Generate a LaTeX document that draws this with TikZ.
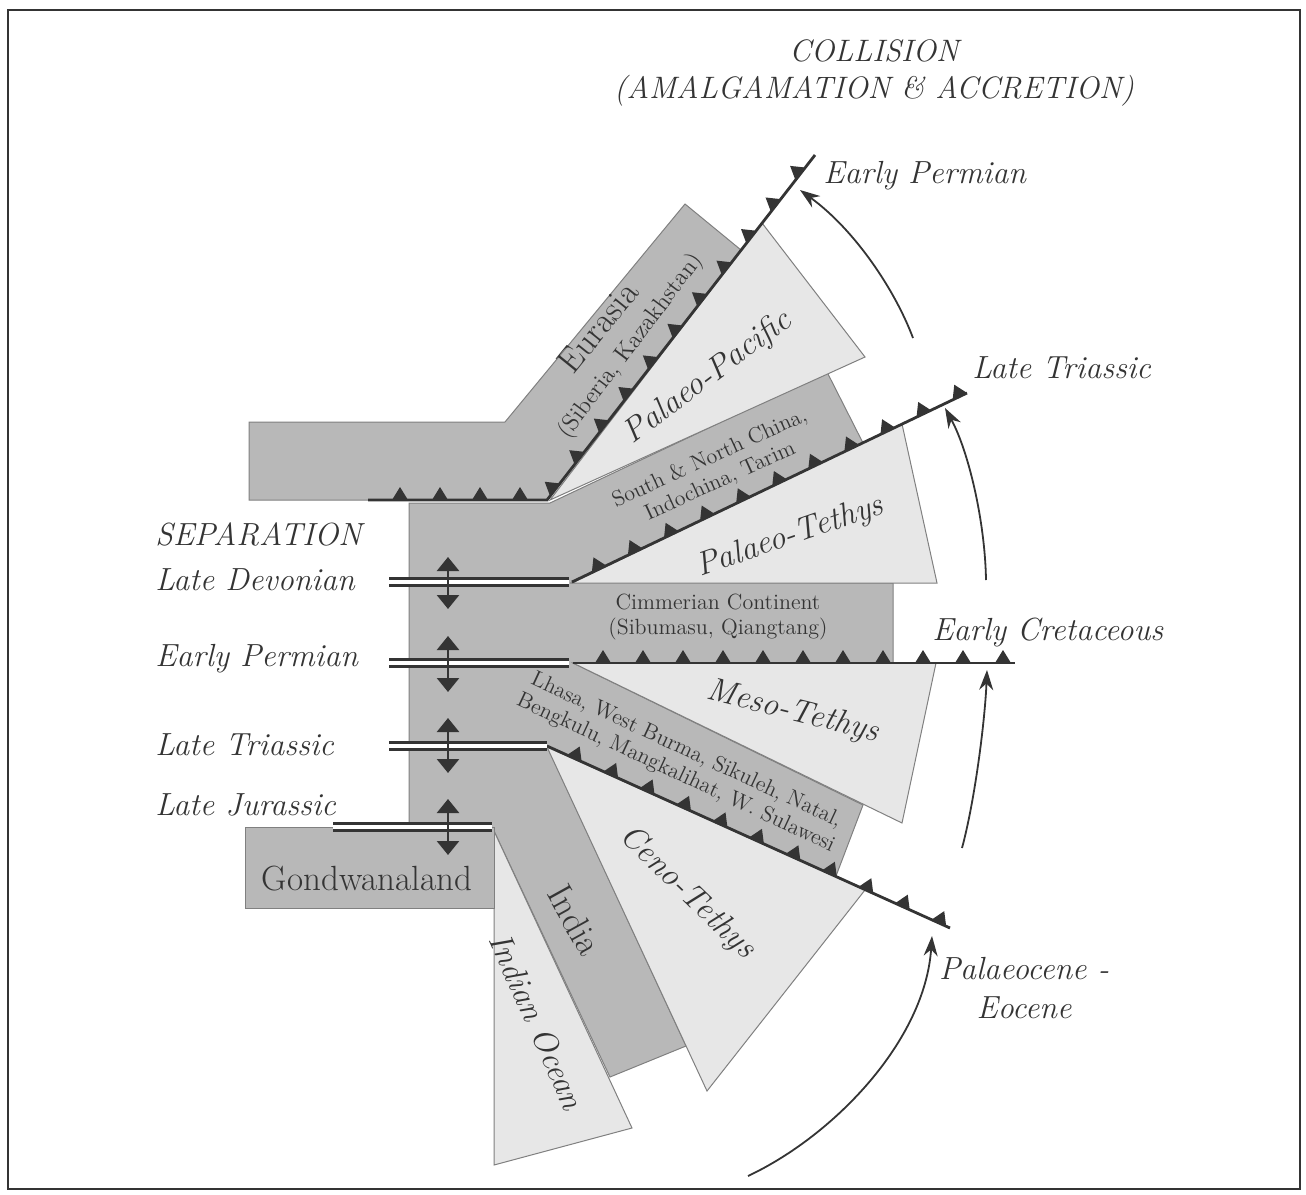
\documentclass[tikz,border=0pt]{standalone}
\usepackage{tikz}
\usetikzlibrary{positioning,arrows.meta,decorations.markings}

\definecolor{plategray}{RGB}{184,184,184}
\definecolor{oceangray}{RGB}{231,231,231}
\definecolor{inkgray}{RGB}{52,52,52}
\definecolor{rimgray}{RGB}{128,128,128}

\begin{document}
\begin{tikzpicture}[
    x=0.5pt, y=-0.5pt,
    plate/.style={fill=plategray, draw=rimgray, line width=0.5pt},
    ocean/.style={fill=oceangray, draw=rimgray, line width=0.5pt},
    trench/.style={draw=inkgray, line width=1.4pt, postaction={decorate},
        decoration={markings, mark=between positions #1 and 1 step 20pt with
        {\fill[inkgray] (-4pt,0pt) -- (0pt,6.5pt) -- (4pt,0pt) -- cycle;}}},
    trench/.default=15pt,
    rift/.style={draw=inkgray, line width=1.4pt, double=white, double distance=2.4pt},
    split/.style={draw=inkgray, line width=1.3pt,
        {Triangle[width=11pt,length=7pt]}-{Triangle[width=11pt,length=7pt]}},
    closing/.style={draw=inkgray, line width=0.9pt, -{Stealth[length=10pt,width=7pt]}},
    age/.style={anchor=base west, inner sep=0pt, text=inkgray, font=\fontsize{16}{19.5}\selectfont\itshape},
    seaname/.style={inner sep=0pt, text=inkgray, font=\fontsize{16.5}{20}\selectfont\itshape},
    landname/.style={inner sep=0pt, text=inkgray, font=\fontsize{17.5}{20}\selectfont},
    blocklabel/.style={inner sep=0pt, align=center, text=inkgray, font=\fontsize{11}{12.5}\selectfont}
]
\useasboundingbox (0,0) rectangle (1306,1194);
\draw[inkgray, line width=1pt] (8,10) rectangle (1300,1189);

% plates
\draw[plate] (409,503) -- (550,503) -- (827,372) -- (863,443) -- (572,582)
    -- (893,583) -- (893,663) -- (573,663) -- (863,805) -- (836,876)
    -- (547,746) -- (686,1046) -- (610,1077) -- (494,831) -- (409,831) -- cycle;
\draw[plate] (249,422) -- (505,422) -- (685,204) -- (741,250) -- (547,500) -- (249,500) -- cycle;

% oceans
\draw[ocean] (550,500) -- (762,223) -- (865,357) -- cycle;
\draw[ocean] (572,583) -- (902,424) -- (937,583) -- cycle;
\draw[ocean] (573,663) -- (936,663) -- (902,823) -- cycle;
\draw[ocean] (547,747) -- (865,890) -- (707,1091) -- cycle;
\draw[ocean] (494,831) -- (632,1128) -- (494,1165) -- cycle;
\draw[plate] (245,827) rectangle (494,908);

% subduction zones
\coordinate (pactip) at (815,155);
\coordinate (pactop) at (967,393);
\coordinate (mesotip) at (1015,663);
\coordinate (cenotip) at (950,928);
\draw[trench=16pt] (368,500) -- (547,500) -- (pactip);
\draw[trench] (572,582) -- (pactop);
\draw[trench] (573,663) -- (mesotip);
\draw[trench] (547,746) -- (cenotip);

% rifting
\draw[rift] (389,582) -- (569,582);
\draw[rift] (389,663) -- (569,663);
\draw[rift] (389,746) -- (547,746);
\draw[rift] (333,827) -- (492,827);
\draw[split] (448,557) -- (448,609);
\draw[split] (448,636) -- (448,692);
\draw[split] (448,718) -- (448,773);
\draw[split] (448,799) -- (448,855);

% closing arrows
\coordinate (a1s) at (913,338); \coordinate (a1e) at (800,190);
\coordinate (a2s) at (986,580); \coordinate (a2e) at (945,408);
\coordinate (a3s) at (962,848); \coordinate (a3e) at (987,670);
\coordinate (a4s) at (748,1176); \coordinate (a4e) at (932,936);
\draw[closing] (a1s) .. controls (895,290) and (855,230) .. (a1e);
\draw[closing] (a2s) .. controls (985,520) and (968,450) .. (a2e);
\draw[closing] (a3s) .. controls (975,800) and (985,720) .. (a3e);
\draw[closing] (a4s) .. controls (835,1135) and (925,1040) .. (a4e);

% labels
\node[age, anchor=base, align=center, font=\fontsize{15.5}{18.5}\selectfont\itshape] (collision) at (874,98)
    {COLLISION\\(AMALGAMATION \& ACCRETION)};
\node[age] (sep) at (155,545) {SEPARATION};
\node[age] (sepdev) at (155,590) {Late Devonian};
\node[age] (sepperm) at (155,666) {Early Permian};
\node[age] (septri) at (155,755) {Late Triassic};
\node[age] (sepjur) at (155,815) {Late Jurassic};
\node[age] (colperm) at (823,183) {Early Permian};
\node[age] (coltri) at (972,378) {Late Triassic};
\node[age] (colcret) at (932,640) {Early Cretaceous};
\node[age, anchor=base, align=center] (colpal) at (1024,1018) {Palaeocene -\\Eocene};

\node[landname, rotate=51] (eurasia) at (598,327) {Eurasia};
\node[blocklabel, rotate=53, font=\fontsize{12}{14}\selectfont] (siberia) at (631,346) {(Siberia, Kazakhstan)};
\node[seaname, rotate=37] (ppacific) at (708,378) {Palaeo-Pacific};
\node[blocklabel, rotate=24.5] (china) at (715,470) {South \& North China,\\Indochina, Tarim};
\node[seaname, rotate=19] (ptethys) at (790,537) {Palaeo-Tethys};
\node[blocklabel] (cimmeria) at (718,617) {Cimmerian Continent\\(Sibumasu, Qiangtang)};
\node[seaname, rotate=-14] (mtethys) at (793,712) {Meso-Tethys};
\node[blocklabel, rotate=-25] (lhasa) at (681,762) {Lhasa, West Burma, Sikuleh, Natal,\\Bengkulu, Mangkalihat, W. Sulawesi};
\node[seaname, rotate=-44] (ctethys) at (687,893) {Ceno-Tethys};
\node[landname, rotate=-61, font=\fontsize{18}{20}\selectfont] (india) at (575,920) {India};
\node[seaname, rotate=-66] (indocean) at (537,1021) {Indian Ocean};
\node[landname, anchor=base] (gondwana) at (367,890) {Gondwanaland};
\end{tikzpicture}
\end{document}
